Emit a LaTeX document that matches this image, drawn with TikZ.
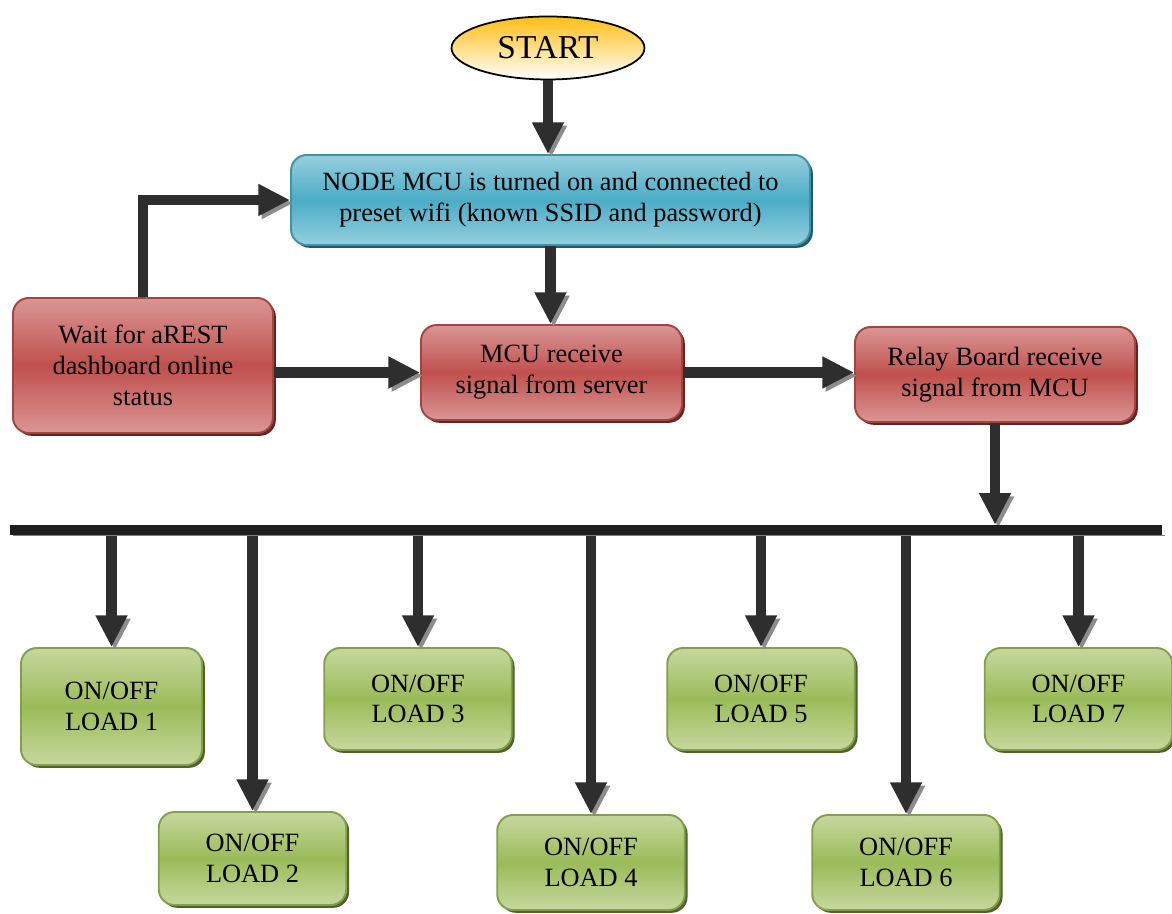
\documentclass[tikz,border=0pt]{standalone}
\usepackage{fontspec}
\setmainfont{Liberation Serif}
\usepackage{tikz}
\usetikzlibrary{shapes,arrows.meta,positioning,shadows}
\definecolor{startgold}{RGB}{255,190,20}
\definecolor{wifiblue}{RGB}{75,172,198}
\definecolor{wifilight}{RGB}{150,207,222}
\definecolor{wifidark}{RGB}{33,89,104}
\definecolor{signalred}{RGB}{192,80,77}
\definecolor{signallight}{RGB}{218,150,148}
\definecolor{signaldark}{RGB}{99,37,35}
\definecolor{loadgreen}{RGB}{155,187,89}
\definecolor{loadlight}{RGB}{197,216,158}
\definecolor{loaddark}{RGB}{79,98,40}

\begin{document}
\begin{tikzpicture}[
  box/.style={rectangle, rounded corners=9pt, line width=1.1pt, align=center,
    inner sep=3pt, font=\fontsize{15}{17.5}\selectfont},
  wifibox/.style={box, draw=wifiblue!85!black, top color=wifilight,
    bottom color=wifilight, middle color=wifiblue,
    drop shadow={shadow xshift=1.6pt, shadow yshift=-1.6pt, fill=wifidark, opacity=1}},
  signalbox/.style={box, draw=signalred!85!black, top color=signallight,
    bottom color=signallight, middle color=signalred,
    drop shadow={shadow xshift=1.6pt, shadow yshift=-1.6pt, fill=signaldark, opacity=1}},
  loadbox/.style={box, draw=loadgreen!85!black, top color=loadlight,
    bottom color=loadlight, middle color=loadgreen, minimum width=3.75cm,
    minimum height=2.04cm,
    drop shadow={shadow xshift=1.6pt, shadow yshift=-1.6pt, fill=loaddark, opacity=1}},
  arrow/.style={-{Triangle[length=18pt,width=17pt]}, line width=6pt, draw=black!82,
    preaction={draw=black!45, transform canvas={xshift=1.8pt,yshift=-1.8pt}}},
  bus/.style={line width=6pt, draw=black!88,
    preaction={draw=black!50, transform canvas={xshift=1.5pt,yshift=-3pt}}}
]
  \useasboundingbox (0,0) rectangle (23.44,18.28);

  % Start
  \node[ellipse, draw, line width=1pt, top color=startgold, bottom color=white,
    minimum width=3.86cm, minimum height=1.26cm, font=\fontsize{19}{22}\selectfont]
    (start) at (10.96,17.32) {START};

  % Wifi connection
  \node[wifibox, minimum width=10.38cm, minimum height=1.8cm] (nodemcu) at (11.01,14.28)
    {NODE MCU is turned on and connected to\\preset wifi (known SSID and password)};

  % Signal chain
  \node[signalbox, minimum width=5.2cm, minimum height=2.7cm] (wait) at (2.86,10.97)
    {Wait for aREST\\dashboard online\\status};
  \node[signalbox, minimum width=5.22cm, minimum height=1.9cm] (mcu) at (11.03,10.83)
    {MCU receive\\signal from server};
  \node[signalbox, minimum width=5.6cm, minimum height=1.9cm] (relay) at (19.9,10.79)
    {Relay Board receive\\signal from MCU};

  % Loads
  \node[loadbox, minimum width=3.62cm, minimum height=2.34cm] (load1) at (2.23,4.15) {ON/OFF\\LOAD 1};
  \node[loadbox, minimum height=1.86cm] (load2) at (5.05,1.11) {ON/OFF\\LOAD 2};
  \node[loadbox] (load3) at (8.36,4.30) {ON/OFF\\LOAD 3};
  \node[loadbox, minimum height=1.9cm] (load4) at (11.82,1.03) {ON/OFF\\LOAD 4};
  \node[loadbox] (load5) at (15.22,4.30) {ON/OFF\\LOAD 5};
  \node[loadbox, minimum height=1.9cm] (load6) at (18.12,1.03) {ON/OFF\\LOAD 6};
  \node[loadbox] (load7) at (21.57,4.30) {ON/OFF\\LOAD 7};

  % Bus ends
  \coordinate (busL) at (0.2,7.68);
  \coordinate (busR) at (23.24,7.68);

  % Arrows
  \draw[arrow] (start.south) -- (start.south |- nodemcu.north);
  \draw[arrow] (nodemcu.south) -- (nodemcu.south |- mcu.north);
  \draw[arrow] (wait.north) |- (nodemcu.west);
  \draw[arrow] (wait.east |- mcu) -- (mcu.west);
  \draw[arrow] (mcu.east) -- (mcu.east -| relay.west);
  \draw[arrow, shorten >=3pt] (relay.south) -- (relay.south |- busL);

  % Drops to the loads
  \draw[arrow] (busL -| load1.north) -- (load1.north);
  \draw[arrow] (busL -| load2.north) -- (load2.north);
  \draw[arrow] (busL -| load3.north) -- (load3.north);
  \draw[arrow] (busL -| load4.north) -- (load4.north);
  \draw[arrow] (busL -| load5.north) -- (load5.north);
  \draw[arrow] (busL -| load6.north) -- (load6.north);
  \draw[arrow] (busL -| load7.north) -- (load7.north);

  % Bus
  \draw[bus] (busL) -- (busR);
\end{tikzpicture}
\end{document}
